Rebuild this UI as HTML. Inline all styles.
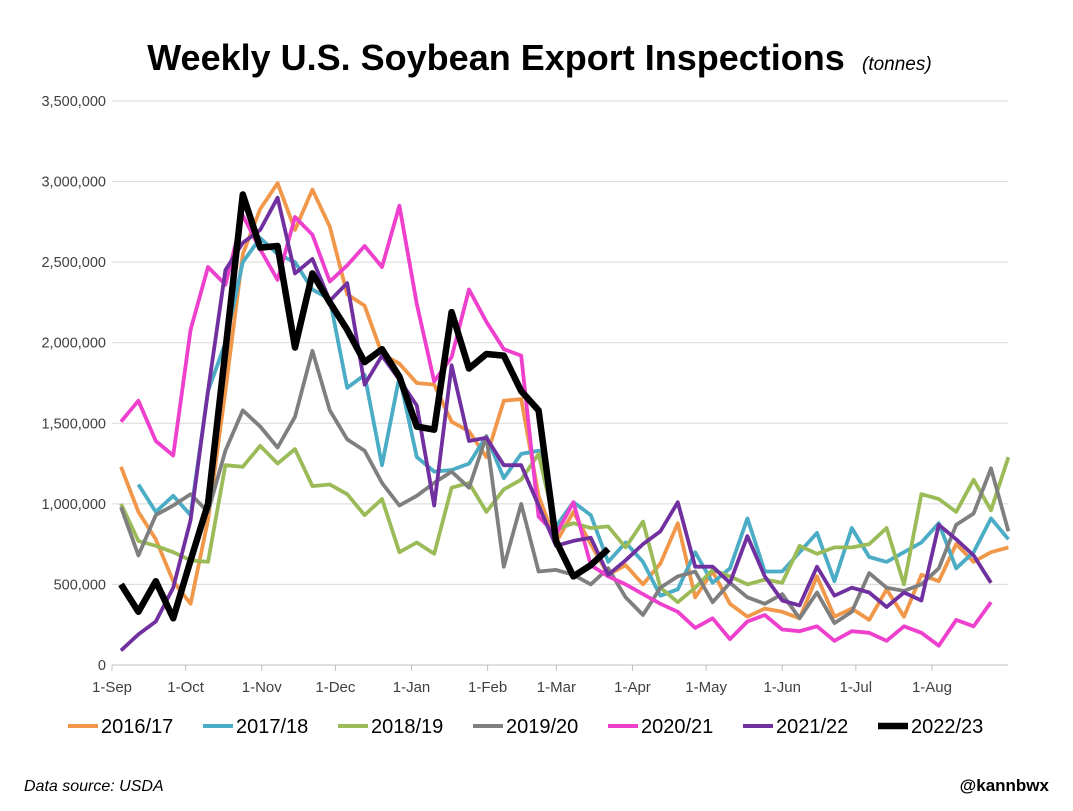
<!DOCTYPE html>
<html><head><meta charset="utf-8"><style>
body{margin:0;background:#fff;font-family:"Liberation Sans",Arial,sans-serif}
svg text{font-family:"Liberation Sans",Arial,sans-serif}
</style></head><body>
<svg width="1073" height="806" viewBox="0 0 1073 806" xmlns="http://www.w3.org/2000/svg">
<rect width="1073" height="806" fill="#fff"/>
<text x="496" y="70" text-anchor="middle" font-size="36" font-weight="bold">Weekly U.S. Soybean Export Inspections</text>
<text x="862" y="70" font-size="19" font-style="italic">(tonnes)</text>
<g id="grid"></g><g id="lines"></g><g id="legend"></g>
<text x="24" y="791" font-size="16" font-style="italic">Data source: USDA</text>
<text x="1049" y="791" text-anchor="end" font-size="17" font-weight="bold">@kannbwx</text>
</svg>
<script>
const yTicks=[0,500000,1000000,1500000,2000000,2500000,3000000,3500000];
const xLabels=["1-Sep","1-Oct","1-Nov","1-Dec","1-Jan","1-Feb","1-Mar","1-Apr","1-May","1-Jun","1-Jul","1-Aug"];
const xLabelDays=[0,30,61,91,122,153,181,212,242,273,303,334];
const seriesNames=["2016/17","2017/18","2018/19","2019/20","2020/21","2021/22","2022/23"];
const s1617=[1230,950,780,520,380,900,1700,2550,2830,2990,2700,2950,2720,2300,2230,1930,1870,1750,1740,1510,1450,1290,1640,1650,1050,760,950,750,560,620,500,630,880,420,580,380,300,350,330,290,550,300,350,280,470,300,560,520,750,640,700,730];
const s1718=[null,1120,950,1050,930,1700,2000,2500,2650,2550,2500,2330,2270,1720,1800,1240,1790,1290,1200,1210,1250,1420,1160,1310,1330,860,1010,930,640,760,640,430,470,700,510,600,910,580,580,700,820,520,850,670,640,700,760,880,600,700,910,780];
const s1819=[1000,770,740,700,650,640,1240,1230,1360,1250,1340,1110,1120,1060,930,1030,700,760,690,1100,1130,950,1090,1150,1310,840,880,850,860,730,890,480,390,480,590,550,500,530,510,740,690,730,730,750,850,500,1060,1030,950,1150,960,1290];
const s1920=[980,680,930,990,1060,950,1330,1580,1480,1350,1540,1950,1580,1400,1330,1130,990,1050,1130,1200,1100,1420,610,1000,580,590,560,500,600,420,310,480,550,580,390,510,420,380,440,290,450,260,330,570,480,460,500,600,870,940,1220,830];
const s2021=[1510,1640,1390,1300,2080,2470,2360,2790,2580,2390,2780,2670,2380,2480,2600,2470,2850,2240,1760,1910,2330,2130,1960,1920,920,810,1010,620,550,500,440,380,330,230,290,160,270,310,220,210,240,150,210,200,150,240,200,120,280,240,390];
const s2122=[90,190,270,480,900,1700,2450,2620,2700,2900,2430,2520,2260,2370,1740,1920,1770,1610,990,1860,1390,1410,1240,1240,990,740,770,790,560,650,750,830,1010,610,610,510,800,550,400,370,610,430,480,450,360,450,400,870,780,680,510];
const s2223=[500,330,520,290,650,1000,1950,2920,2590,2600,1970,2430,2250,2080,1880,1960,1790,1480,1460,2190,1840,1930,1920,1700,1580,770,550,620,720];
const colors=["#F0974A","#4BACC6","#9BBB59","#7F7F7F","#EE3FCD","#7030A0","#000000"];
const allSeries=[s1617,s1718,s1819,s1920,s2021,s2122,s2223];
const NS="http://www.w3.org/2000/svg";
const X0=112,X1=1008,Y0=665,YT=101;
const y=v=>Y0-(v/3500000)*(Y0-YT);
const xDay=d=>X0+d*2.455;
const xWeek=i=>121+i*17.4;
const grid=document.getElementById('grid');
yTicks.forEach(t=>{
 const l=document.createElementNS(NS,'line');
 l.setAttribute('x1',X0);l.setAttribute('x2',X1);l.setAttribute('y1',y(t));l.setAttribute('y2',y(t));
 l.setAttribute('stroke',t===0?'#bfbfbf':'#d9d9d9');l.setAttribute('stroke-width','1');
 
 
 grid.appendChild(l);
 const tx=document.createElementNS(NS,'text');
 tx.setAttribute('x',106);tx.setAttribute('y',y(t)+5);tx.setAttribute('text-anchor','end');tx.setAttribute('font-size','14.5');tx.setAttribute('fill','#404040');
 tx.textContent=t.toLocaleString('en-US');
 
 
 grid.appendChild(tx);
});
xLabels.forEach((lab,i)=>{
 const x=xDay(xLabelDays[i]);
 const tk=document.createElementNS(NS,'line');
 tk.setAttribute('x1',x);tk.setAttribute('x2',x);tk.setAttribute('y1',Y0);tk.setAttribute('y2',Y0+6);tk.setAttribute('stroke','#bfbfbf');
 
 
 grid.appendChild(tk);
 const tx=document.createElementNS(NS,'text');
 tx.setAttribute('x',x);tx.setAttribute('y',692);tx.setAttribute('text-anchor','middle');tx.setAttribute('font-size','15');tx.setAttribute('fill','#404040');
 tx.textContent=lab;
 
 
 grid.appendChild(tx);
});
const lg=document.getElementById('lines');
allSeries.forEach((s,k)=>{
 let d='';let pen=false;
 s.forEach((v,i)=>{if(v==null){pen=false;return;}d+=(pen?'L':'M')+xWeek(i).toFixed(1)+','+y(v*1000).toFixed(1);pen=true;});
 const p=document.createElementNS(NS,'path');
 p.setAttribute('d',d);p.setAttribute('fill','none');p.setAttribute('stroke',colors[k]);
 p.setAttribute('stroke-width',k===6?'6.5':'3.8');p.setAttribute('stroke-linejoin','round');
 
 
 lg.appendChild(p);
});
const leg=document.getElementById('legend');
const legX=[68,203,338,473,608,743,878];
seriesNames.forEach((n,k)=>{
 const g=document.createElementNS(NS,'g');
 
 
 const l=document.createElementNS(NS,'line');
 l.setAttribute('x1',legX[k]);l.setAttribute('x2',legX[k]+30);l.setAttribute('y1',726);l.setAttribute('y2',726);
 l.setAttribute('stroke',colors[k]);l.setAttribute('stroke-width',k===6?'6.5':'4');
 g.appendChild(l);
 const t=document.createElementNS(NS,'text');
 t.setAttribute('x',legX[k]+33);t.setAttribute('y',733);t.setAttribute('font-size','20');t.setAttribute('fill','#000');
 t.textContent=n;g.appendChild(t);
 leg.appendChild(g);
});
</script>
</body></html>
